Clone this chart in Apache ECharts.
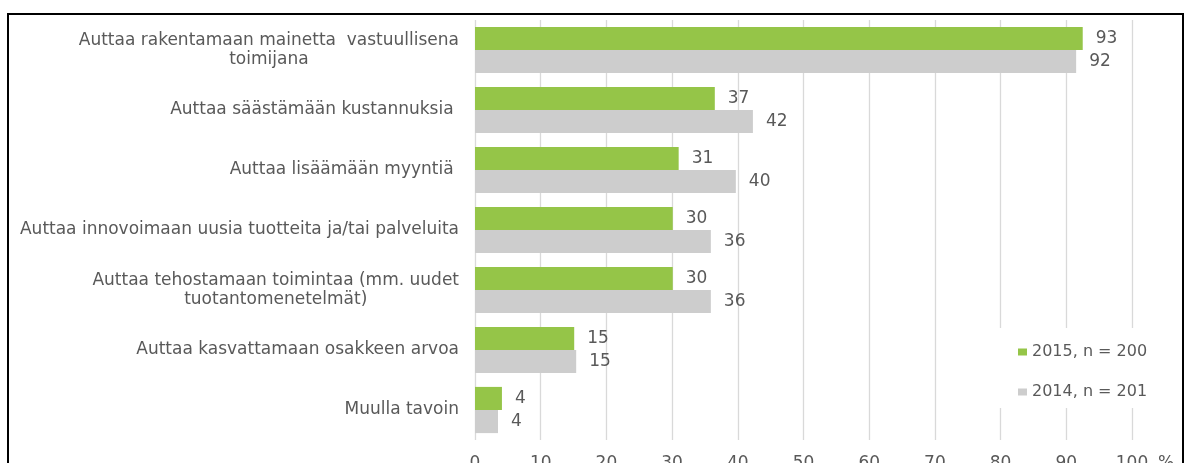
<!DOCTYPE html>
<html>
<head>
<meta charset="utf-8">
<script src="https://cdn.jsdelivr.net/npm/echarts@6/dist/echarts.min.js"></script>
<style>
html,body{margin:0;padding:0;background:#fff;}
#chart{width:1190px;height:463px;}
</style>
</head>
<body>
<div id="chart"></div>
<script>
var categories = [
  'Auttaa rakentamaan mainetta  vastuullisena\ntoimijana',
  'Auttaa säästämään kustannuksia ',
  'Auttaa lisäämään myyntiä ',
  'Auttaa innovoimaan uusia tuotteita ja/tai palveluita',
  'Auttaa tehostamaan toimintaa (mm. uudet\ntuotantomenetelmät)',
  'Auttaa kasvattamaan osakkeen arvoa',
  'Muulla tavoin'
];
var series2015Name = '2015, n = 200';
var series2014Name = '2014, n = 201';
var values2015 = [92.5, 36.5, 31.0, 30.1, 30.1, 15.1, 4.1];
var values2014 = [91.5, 42.3, 39.7, 35.9, 35.9, 15.4, 3.5];
var xTicks = [0, 10, 20, 30, 40, 50, 60, 70, 80, 90, 100];

var FONT = 'DejaVu Sans';
var TXT = '#595959';

var chart = echarts.init(document.getElementById('chart'), null, {renderer: 'canvas'});
chart.setOption({
  backgroundColor: '#ffffff',
  animation: false,
  graphic: [
    {type: 'rect', z: 1, shape: {x: 989, y: 328, width: 191, height: 80}, style: {fill: '#ffffff'}},
    {type: 'rect', z: 100, shape: {x: 8, y: 14, width: 1175, height: 480}, style: {fill: 'none', stroke: '#000', lineWidth: 2}}
  ],
  grid: {left: 475, right: 58, top: 20, bottom: 23, containLabel: false, outerBoundsMode: 'none'},
  legend: {
    orient: 'vertical',
    left: 1013,
    top: 339,
    z: 5,
    itemWidth: 9,
    itemHeight: 7,
    itemGap: 24,
    icon: 'rect',
    data: [series2015Name, series2014Name],
    textStyle: {fontFamily: FONT, fontSize: 16, color: TXT}
  },
  xAxis: {
    type: 'value',
    min: xTicks[0],
    max: xTicks[xTicks.length - 1],
    interval: 10,
    axisLine: {show: false},
    axisTick: {show: false},
    splitLine: {show: true, lineStyle: {color: '#d9d9d9', width: 1.3}},
    axisLabel: {fontFamily: FONT, fontSize: 17, color: TXT, margin: 15},
    name: '%',
    nameLocation: 'end',
    nameGap: 26,
    nameTextStyle: {fontFamily: FONT, fontSize: 17, color: TXT, verticalAlign: 'top', padding: [15, 0, 0, 0]}
  },
  yAxis: {
    type: 'category',
    inverse: true,
    data: categories,
    axisLine: {show: false},
    axisTick: {show: false},
    axisLabel: {
      margin: 16,
      fontFamily: FONT,
      fontSize: 17,
      color: TXT,
      lineHeight: 19,
      formatter: function (v) {
        return v.split('\n').map(function (l) { return '{c|' + l + '}'; }).join('\n');
      },
      rich: {c: {align: 'center', fontFamily: FONT, fontSize: 17, color: TXT, lineHeight: 19}}
    }
  },
  series: [
    {
      name: series2015Name,
      type: 'bar',
      data: values2015,
      barGap: '0%',
      barCategoryGap: '23%',
      itemStyle: {color: '#95c548'},
      label: {show: true, position: 'right', distance: 13, fontFamily: FONT, fontSize: 17, color: TXT,
        formatter: function (p) { return Math.round(p.value); }}
    },
    {
      name: series2014Name,
      type: 'bar',
      data: values2014,
      barGap: '0%',
      barCategoryGap: '23%',
      itemStyle: {color: '#cdcdcd'},
      label: {show: true, position: 'right', distance: 13, fontFamily: FONT, fontSize: 17, color: TXT,
        formatter: function (p) { return Math.round(p.value); }}
    }
  ]
});
</script>
</body>
</html>
